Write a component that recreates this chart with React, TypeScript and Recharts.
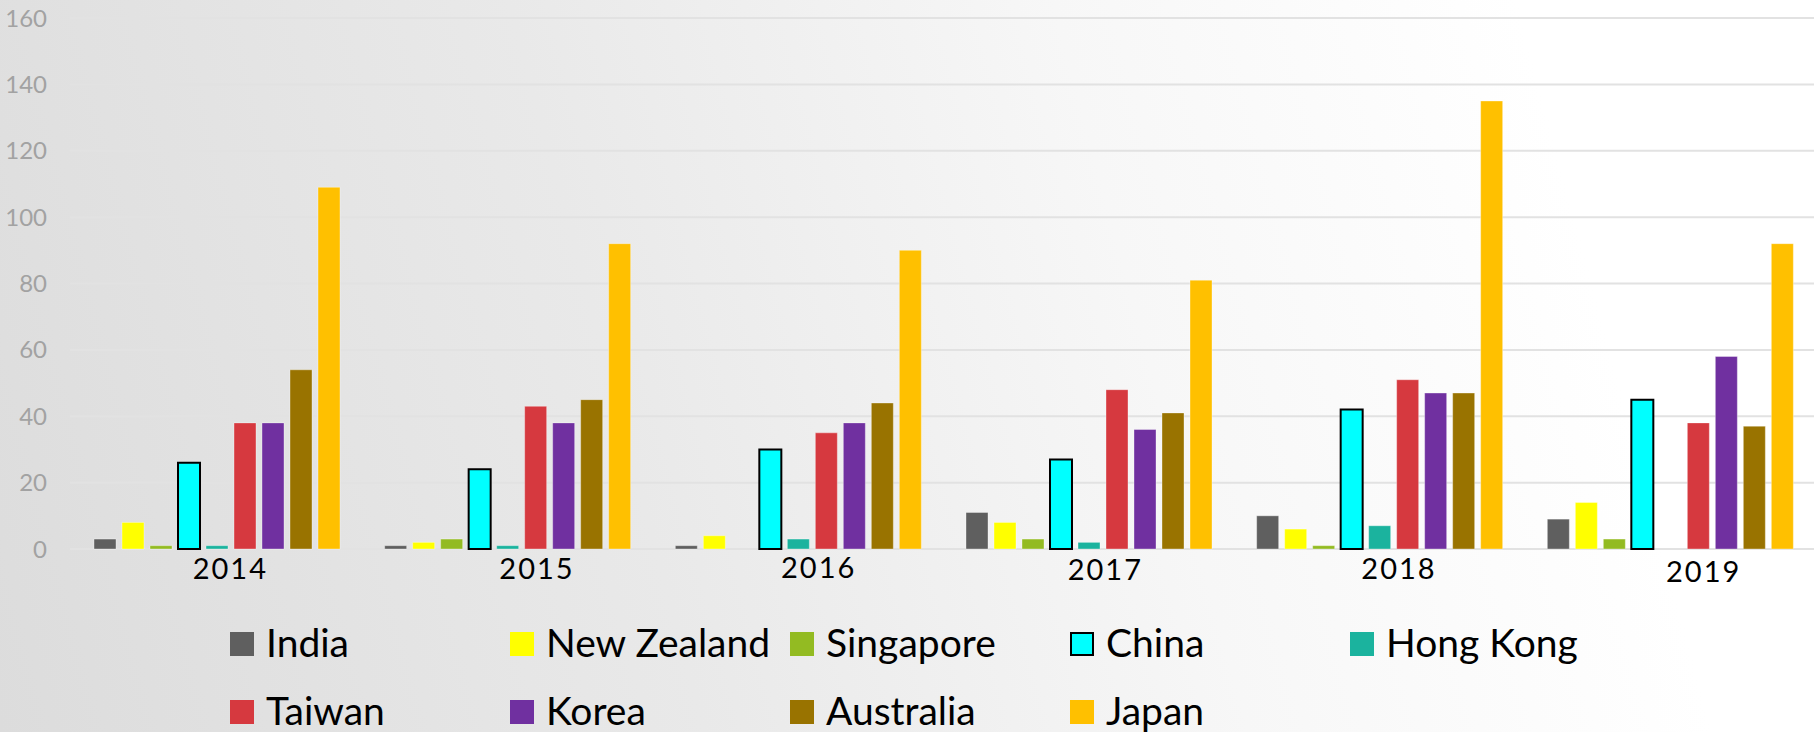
import React from 'react';
import { BarChart, Bar, XAxis, YAxis, CartesianGrid } from 'recharts';

const years = ['2014', '2015', '2016', '2017', '2018', '2019'];
const india = [3, 1, 1, 11, 10, 9];
const newZealand = [8, 2, 4, 8, 6, 14];
const singapore = [1, 3, 0, 3, 1, 3];
const china = [26, 24, 30, 27, 42, 45];
const hongKong = [1, 1, 3, 2, 7, 0];
const taiwan = [38, 43, 35, 48, 51, 38];
const korea = [38, 38, 38, 36, 47, 58];
const australia = [54, 45, 44, 41, 47, 37];
const japan = [109, 92, 90, 81, 135, 92];
const yTicks = [0, 20, 40, 60, 80, 100, 120, 140, 160];

const series = [
  { key: 'India', values: india, color: '#5f5f5f' },
  { key: 'New Zealand', values: newZealand, color: '#ffff00' },
  { key: 'Singapore', values: singapore, color: '#93bb22' },
  { key: 'China', values: china, color: '#00ffff', outline: '#000000' },
  { key: 'Hong Kong', values: hongKong, color: '#1bb39e' },
  { key: 'Taiwan', values: taiwan, color: '#d6393f' },
  { key: 'Korea', values: korea, color: '#7030a0' },
  { key: 'Australia', values: australia, color: '#997300' },
  { key: 'Japan', values: japan, color: '#ffc000' },
];

const data = years.map((year, i) => {
  const row: Record<string, string | number> = { year };
  series.forEach(s => { row[s.key] = s.values[i]; });
  return row;
});

// year labels sit a little right of the band centre in the original
const labelNudge = [15, 31, 22, 18, 21, 35];
const labelDrop = [0, 0, -1, 1, 0, 3];

const YearTick = (props: any) => {
  const { x, y, payload, index } = props;
  return (
    <text x={x + labelNudge[index]} y={y + 30 + labelDrop[index]} textAnchor="middle"
      fill="#000000" fontSize={29} letterSpacing={2} fontFamily="Lato, sans-serif">
      {payload.value}
    </text>
  );
};

const legendRows = [series.slice(0, 5), series.slice(5)];

const Legend = () => (
  <svg width={1819} height={110} overflow="visible"
    style={{ position: 'absolute', left: 0, top: 612, overflow: 'visible' }}>
    {legendRows.map((row, r) =>
      row.map((s, c) => {
        const x = 230 + c * 280;
        const y = 20 + r * 68;
        return (
          <g key={s.key}>
            <rect x={s.outline ? x + 1 : x} y={s.outline ? y + 1 : y}
              width={s.outline ? 22 : 24} height={s.outline ? 22 : 24}
              fill={s.color} stroke={s.outline || 'none'} strokeWidth={2} />
            <text x={x + 36} y={y + 25} fontSize={39} fill="#000000"
              fontFamily="Lato, sans-serif">{s.key}</text>
          </g>
        );
      })
    )}
  </svg>
);

export default function App() {
  return (
    <div style={{
      position: 'absolute', left: 0, top: 0, width: 1819, height: 732, overflow: 'hidden',
      background: 'linear-gradient(75deg, #dcdcdc 0%, #e9e9e9 35%, #f7f7f7 62%, #ffffff 85%)',
    }}>
      <BarChart width={1819} height={732} data={data}
        margin={{ top: 18, right: 5, bottom: 143, left: 0 }}
        barCategoryGap={24} barGap={6}>
        <CartesianGrid vertical={false} stroke="#e2e2e2" strokeWidth={2} />
        <XAxis dataKey="year" interval={0} axisLine={false} tickLine={false}
          tickSize={0} tickMargin={0} height={40} tick={<YearTick />} />
        <YAxis domain={[0, 160]} ticks={yTicks} width={70} axisLine={false}
          tickLine={false} tickSize={0} tickMargin={23}
          tick={{ fontSize: 24, fill: '#a2a2a2', fontFamily: 'Lato, sans-serif' }} />
        {series.map(s => (
          <Bar key={s.key} dataKey={s.key} fill={s.color}
            stroke={s.outline || '#ffffff'} strokeWidth={s.outline ? 2 : 1}
            strokeOpacity={s.outline ? 1 : 0.35} isAnimationActive={false} />
        ))}
      </BarChart>
      <Legend />
    </div>
  );
}
